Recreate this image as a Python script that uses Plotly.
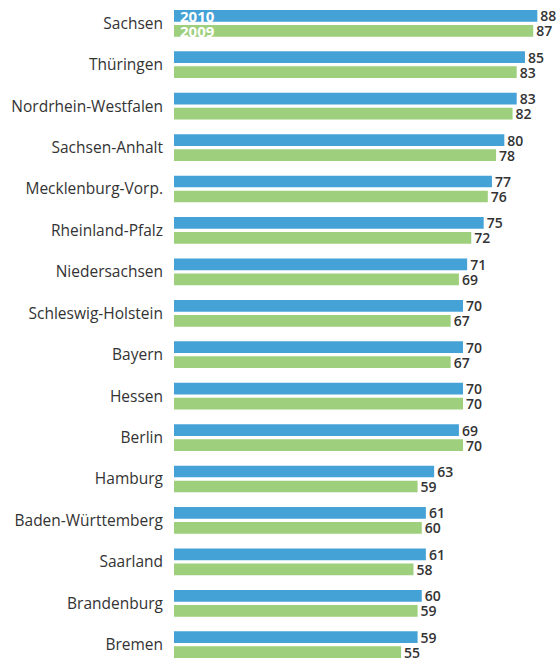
import plotly.graph_objects as go

states = ["Sachsen", "Thüringen", "Nordrhein-Westfalen", "Sachsen-Anhalt",
          "Mecklenburg-Vorp.", "Rheinland-Pfalz", "Niedersachsen", "Schleswig-Holstein",
          "Bayern", "Hessen", "Berlin", "Hamburg", "Baden-Württemberg", "Saarland",
          "Brandenburg", "Bremen"]
values_2010 = [88, 85, 83, 80, 77, 75, 71, 70, 70, 70, 69, 63, 61, 61, 60, 59]
values_2009 = [87, 83, 82, 78, 76, 72, 69, 67, 67, 70, 70, 59, 60, 58, 59, 55]
series_names = ["2010", "2009"]
colors = ["#44a2d7", "#9dcf7d"]

fig = go.Figure()
for name, vals, col in zip(series_names, [values_2010, values_2009], colors):
    fig.add_trace(go.Bar(
        y=states, x=vals, name=name, orientation="h",
        marker=dict(color=col, line=dict(width=0)),
        text=[str(v) for v in vals], textposition="outside",
        constraintext="none", cliponaxis=False,
        textfont=dict(family="Open Sans", size=14, color="#333333", weight=600),
        hoverinfo="skip",
    ))

# series labels inside the first bars
for i, name in enumerate(series_names):
    fig.add_annotation(
        x=0, y=states[0], xref="x", yref="y", text=f"<b>{name}</b>",
        showarrow=False, xanchor="left", yanchor="middle",
        xshift=4, yshift=7.5 if i == 0 else -7.5,
        font=dict(family="Open Sans", size=15, color="white"),
    )

fig.update_layout(
    width=558, height=661,
    margin=dict(l=174, r=0, t=0, b=0),
    paper_bgcolor="white", plot_bgcolor="white",
    barmode="group", bargap=0.276, bargroupgap=0.22,
    showlegend=False,
    font=dict(family="Open Sans", color="#333333"),
)
fig.update_xaxes(range=[0, 93.0], visible=False, showgrid=False, zeroline=False)
fig.update_yaxes(
    range=[15.393, -0.562], showgrid=False, zeroline=False, showline=False,
    ticks="", ticklabelstandoff=10,
    tickfont=dict(family="Open Sans", size=15.5, color="#333333"),
)

fig.write_html("out.html", config={"displayModeBar": False},
               post_script="document.body.style.margin='0';")
